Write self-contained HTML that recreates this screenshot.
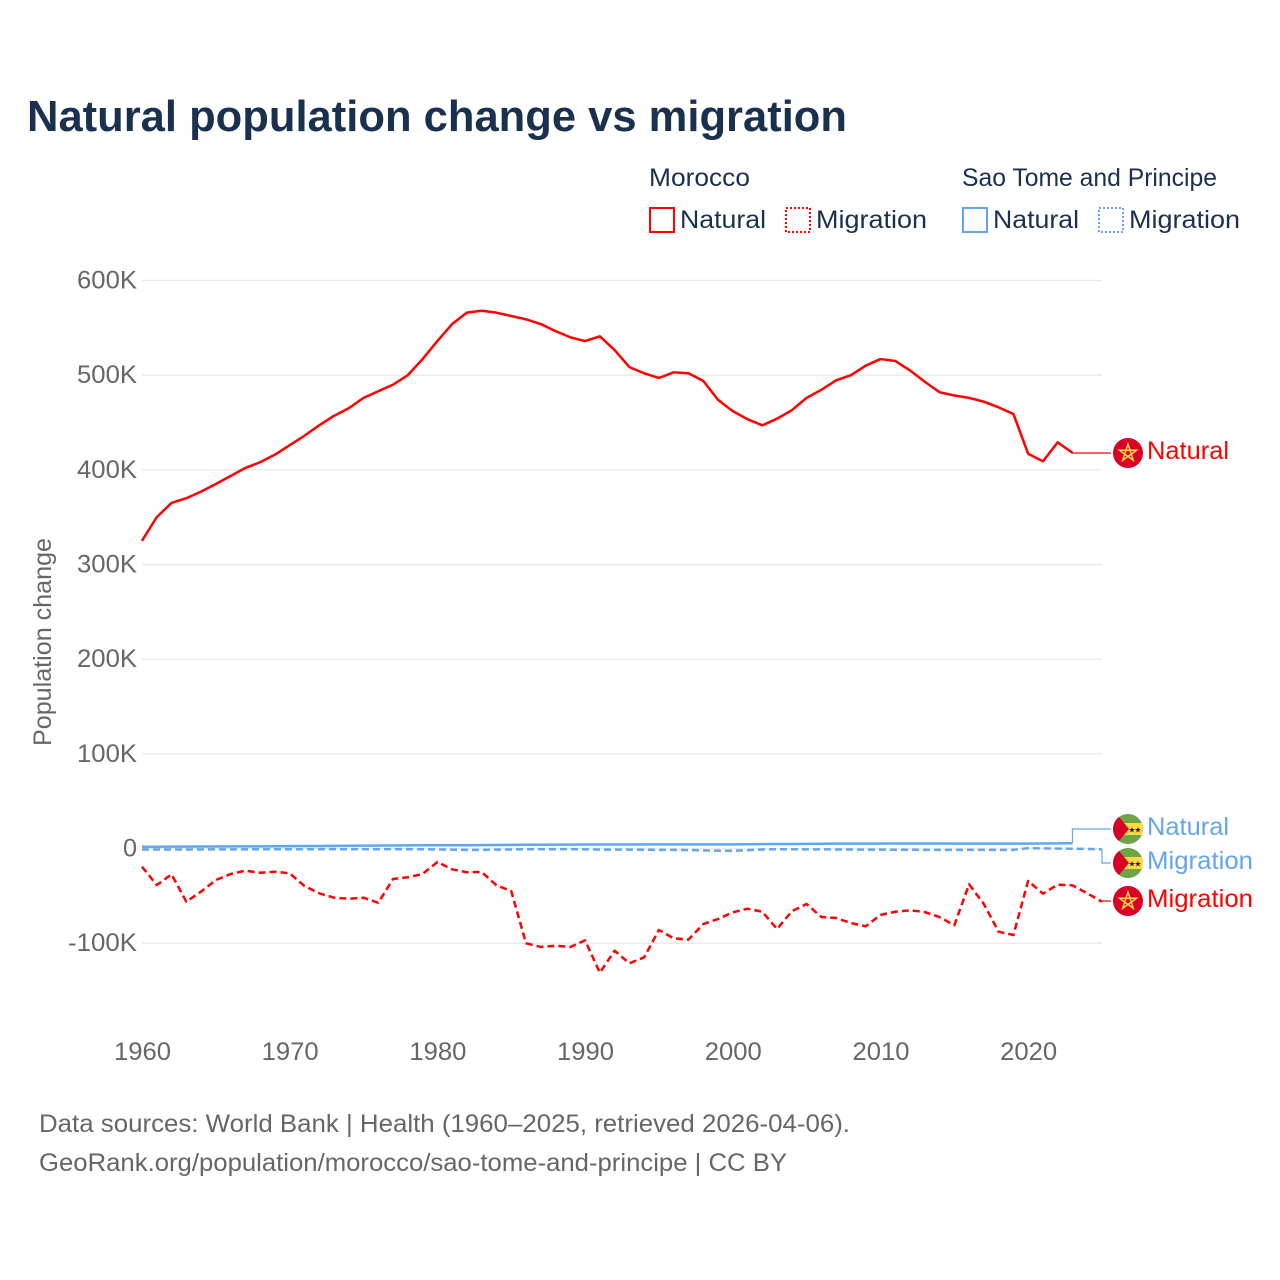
<!DOCTYPE html>
<html lang="en">
<head>
<meta charset="utf-8">
<title>Natural population change vs migration</title>
<style>
html,body{margin:0;padding:0;background:#fff;}
svg{display:block;font-family:"Liberation Sans",sans-serif;}
</style>
</head>
<body>
<svg id="chart" xmlns="http://www.w3.org/2000/svg" width="1280" height="1280" viewBox="0 0 1280 1280">
  <rect width="1280" height="1280" fill="#fff"/>
  <text x="27" y="131" font-size="44" font-weight="700" fill="#19304f" textLength="820" lengthAdjust="spacingAndGlyphs">Natural population change vs migration</text>

  <g font-size="25" fill="#19304f">
    <text x="649" y="186" textLength="101" lengthAdjust="spacingAndGlyphs">Morocco</text>
    <text x="962" y="186" textLength="255" lengthAdjust="spacingAndGlyphs">Sao Tome and Principe</text>
    <rect x="650" y="208" width="24" height="24" fill="none" stroke="#ff0000" stroke-width="2"/>
    <text x="680" y="228" textLength="86" lengthAdjust="spacingAndGlyphs">Natural</text>
    <rect x="786" y="208" width="24" height="24" fill="none" stroke="#ff0000" stroke-width="2" stroke-dasharray="2 2"/>
    <text x="816" y="228" textLength="111" lengthAdjust="spacingAndGlyphs">Migration</text>
    <rect x="963" y="208" width="24" height="24" fill="none" stroke="#62a6ef" stroke-width="2"/>
    <text x="993" y="228" textLength="86" lengthAdjust="spacingAndGlyphs">Natural</text>
    <rect x="1099" y="208" width="24" height="24" fill="none" stroke="#62a6ef" stroke-width="2" stroke-dasharray="2 2"/>
    <text x="1129" y="228" textLength="111" lengthAdjust="spacingAndGlyphs">Migration</text>
  </g>

  <g id="grid"></g>
  <g id="yticks"></g>
  <g id="xticks"></g>
  <text transform="translate(51,642) rotate(-90)" text-anchor="middle" font-size="25" fill="#666" textLength="208" lengthAdjust="spacingAndGlyphs">Population change</text>
  <g id="series"></g>
  <g id="labels"></g>

  <g font-size="25" fill="#666">
    <text x="39" y="1132" textLength="811" lengthAdjust="spacingAndGlyphs">Data sources: World Bank | Health (1960–2025, retrieved 2026-04-06).</text>
    <text x="39" y="1171" textLength="748" lengthAdjust="spacingAndGlyphs">GeoRank.org/population/morocco/sao-tome-and-principe | CC BY</text>
  </g>
</svg>
<script>
const startYear = 1960;
const yTickValues = [600, 500, 400, 300, 200, 100, 0, -100];
const yTickLabels = ["600K", "500K", "400K", "300K", "200K", "100K", "0", "-100K"];
const xTickValues = [1960, 1970, 1980, 1990, 2000, 2010, 2020];
const xTickLabels = ["1960", "1970", "1980", "1990", "2000", "2010", "2020"];

/* Values in thousands, one per year from 1960 */
const moroccoNatural = [325,350,365,370,377,385,393.5,402,408,416,426,436,447,457,465,476,483,490,500,517,536,554,566,568,566,562.5,559,554,546.5,540,536,541,526.5,508.5,502,497,503,502,494,474,462,453.5,447,454,463,476,484.5,494.5,500,510,517,515,505,493,482,478.5,476,472,466,459,417,409,429,418];
const moroccoMigration = [-19.2,-38.6,-27.3,-56.2,-45.6,-33.3,-26.9,-23.4,-25.6,-24.5,-26.2,-39.6,-47.3,-52,-53,-52,-57.3,-32.2,-30.4,-26.9,-14.3,-22,-25.1,-24.8,-38.9,-44.9,-100.1,-104,-102.7,-104,-97,-131.2,-108,-121.3,-115,-86,-94.9,-96.3,-79.8,-74.5,-67.4,-63.6,-66.8,-85,-66.3,-58.6,-72.4,-73.4,-78.7,-82.2,-70.2,-66.8,-65.3,-67.1,-72.4,-81.1,-37.8,-58.6,-87.9,-91.4,-34.3,-47.7,-38.2,-38.9,-47.3,-56.2];
const stpNatural = [1.9,1.9,2,2,2.1,2.1,2.2,2.2,2.3,2.4,2.5,2.6,2.7,2.8,2.9,3,3.1,3.2,3.3,3.4,3.5,3.5,3.5,3.6,3.7,3.8,3.9,4,4.1,4.1,4.2,4.2,4.2,4.2,4.3,4.3,4.3,4.3,4.4,4.4,4.4,4.5,4.6,4.7,4.8,4.9,5,5.1,5.2,5.2,5.2,5.3,5.3,5.3,5.3,5.2,5.2,5.2,5.1,5.1,5.2,5.3,5.4,5.5];
const stpMigration = [-1,-1,-1,-1,-1,-0.9,-0.9,-0.9,-0.8,-0.8,-0.8,-0.8,-0.7,-0.7,-0.7,-0.6,-0.6,-0.6,-0.7,-0.8,-1,-1.2,-1.4,-1.4,-1.2,-1,-0.8,-0.7,-0.6,-0.7,-0.9,-1.1,-1.2,-1.2,-1.3,-1.4,-1.5,-1.7,-2,-2.3,-2.4,-1.7,-1,-0.8,-0.8,-0.9,-0.9,-1,-1.1,-1.2,-1.2,-1.3,-1.3,-1.4,-1.4,-1.5,-1.5,-1.5,-1.5,-1.4,0.4,0.1,-0.1,-0.2,-0.5,-0.8];

const NS = 'http://www.w3.org/2000/svg';
const pxPerYear = 960 / 65;
const pxPerK = 0.9467;
function xScale(year) { return 142 + (year - startYear) * pxPerYear; }
function yScale(k) { return 848.5 - k * pxPerK; }
function make(tag, attrs, parent) {
  const el = document.createElementNS(NS, tag);
  for (const k in attrs) el.setAttribute(k, attrs[k]);
  parent.appendChild(el);
  return el;
}

const gridG = document.getElementById('grid');
const yG = document.getElementById('yticks');
const xG = document.getElementById('xticks');
const seriesG = document.getElementById('series');
const labelsG = document.getElementById('labels');

yTickValues.forEach(function (v, i) {
  const line = make('line', {x1: 142, x2: 1102, y1: yScale(v), y2: yScale(v), stroke: '#e9e9e9', 'stroke-width': 1.4}, gridG);
  
  
  const label = yTickLabels[i];
  const width = label.length === 1 ? 14 : (label.length === 5 ? 69 : 60);
  const t = make('text', {x: 137, y: yScale(v) + 8, 'text-anchor': 'end', 'font-size': 25, fill: '#666', textLength: width, lengthAdjust: 'spacingAndGlyphs'}, yG);
  
  
  t.textContent = label;
});

xTickValues.forEach(function (v, i) {
  const t = make('text', {x: xScale(v) + 0.5, y: 1060, 'text-anchor': 'middle', 'font-size': 25, fill: '#666', textLength: 57, lengthAdjust: 'spacingAndGlyphs'}, xG);
  
  
  t.textContent = xTickLabels[i];
});

function pointsOf(values) {
  return values.map(function (v, i) {
    return xScale(startYear + i).toFixed(2) + ',' + yScale(v).toFixed(2);
  }).join(' ');
}

function drawLine(values, color, dash, name) {
  const attrs = {points: pointsOf(values), fill: 'none', stroke: color, 'stroke-width': 2.5, 'stroke-linejoin': 'round'};
  if (dash) attrs['stroke-dasharray'] = '7 4';
  const p = make('polyline', attrs, seriesG);
  
  
}

function drawConnector(values, labelY, color) {
  const lastX = xScale(startYear + values.length - 1);
  const lastY = yScale(values[values.length - 1]);
  const c = make('polyline', {points: lastX + ',' + lastY + ' ' + lastX + ',' + labelY + ' 1111,' + labelY, fill: 'none', stroke: color, 'stroke-width': 1.2}, seriesG);
  
  
}

const RED = '#ff0000';
const BLUE = '#62a6ef';
drawLine(stpMigration, BLUE, true, 'line-stp-migration');
drawLine(stpNatural, BLUE, false, 'line-stp-natural');
drawLine(moroccoMigration, RED, true, 'line-morocco-migration');
drawLine(moroccoNatural, RED, false, 'line-morocco-natural');

drawConnector(moroccoNatural, 453, RED);
drawConnector(moroccoMigration, 901, RED);
drawConnector(stpNatural, 829, BLUE);
drawConnector(stpMigration, 863, BLUE);

let clipCount = 0;
function moroccoFlag(cx, cy) {
  const g = make('g', {}, labelsG);
  
  
  make('circle', {cx: cx, cy: cy, r: 15, fill: '#d80027'}, g);
  const pts = [];
  for (let i = 0; i < 5; i++) {
    const a = -Math.PI / 2 + i * 4 * Math.PI / 5;
    pts.push((cx + 9 * Math.cos(a)).toFixed(2) + ',' + (cy + 9 * Math.sin(a)).toFixed(2));
  }
  make('polygon', {points: pts.join(' '), fill: 'none', stroke: '#ffda44', 'stroke-width': 1.5}, g);
}

function stpFlag(cx, cy) {
  const id = 'flagclip' + (clipCount++);
  const g = make('g', {}, labelsG);
  
  
  const cp = make('clipPath', {id: id}, g);
  make('circle', {cx: cx, cy: cy, r: 15}, cp);
  const inner = make('g', {'clip-path': 'url(#' + id + ')'}, g);
  make('rect', {x: cx - 15, y: cy - 15, width: 30, height: 30, fill: '#6da544'}, inner);
  make('rect', {x: cx - 15, y: cy - 6, width: 30, height: 12, fill: '#ffda44'}, inner);
  make('polygon', {points: (cx - 15) + ',' + (cy - 15) + ' ' + (cx - 9) + ',' + (cy - 12) + ' ' + (cx + 1) + ',' + cy + ' ' + (cx - 9) + ',' + (cy + 12) + ' ' + (cx - 15) + ',' + (cy + 15), fill: '#d80027'}, inner);
  [4, 10].forEach(function (dx) {
    const s = make('text', {x: cx + dx, y: cy + 3.5, 'text-anchor': 'middle', 'font-size': 8, fill: '#222', style: 'font-family:"DejaVu Sans",sans-serif'}, inner);
    s.textContent = '★';
  });
}

function endLabel(text, y, color, width) {
  const t = make('text', {x: 1147, y: y + 8, 'font-size': 25, fill: color, textLength: width, lengthAdjust: 'spacingAndGlyphs'}, labelsG);
  
  
  t.textContent = text;
}

stpFlag(1128, 829);
stpFlag(1128, 863);
moroccoFlag(1128, 453);
moroccoFlag(1128, 901);
endLabel('Natural', 451, RED, 82);
endLabel('Natural', 827, BLUE, 82);
endLabel('Migration', 861, BLUE, 106);
endLabel('Migration', 899, RED, 106);
</script>
</body>
</html>
